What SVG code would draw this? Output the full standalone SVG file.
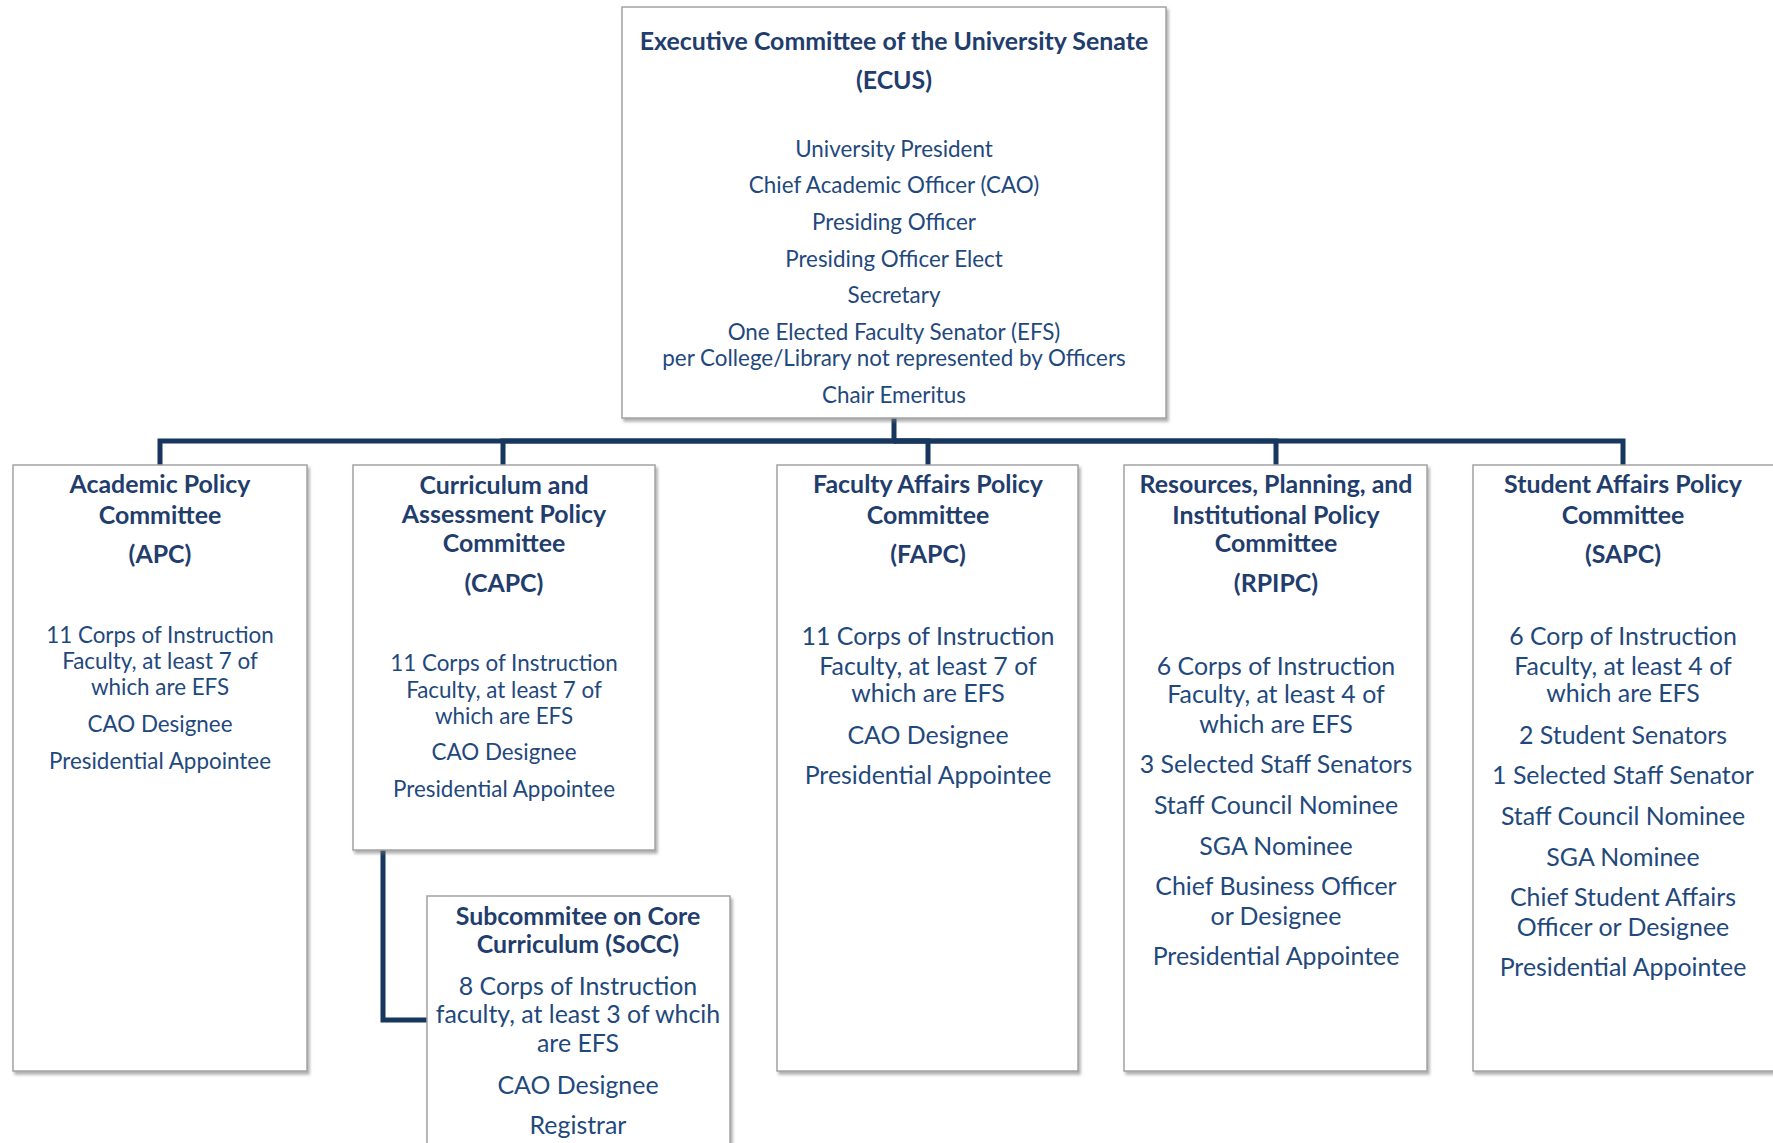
<svg xmlns="http://www.w3.org/2000/svg" width="1773" height="1143" viewBox="0 0 1773 1143">
<defs>
<filter id="sh" x="-5%" y="-5%" width="115%" height="115%">
<feDropShadow dx="2" dy="3" stdDeviation="1.8" flood-color="#6e6e6e" flood-opacity="0.55"/>
</filter>
<style>
.box{fill:#ffffff;stroke:#a3a3a3;stroke-width:1.5;filter:url(#sh)}
.conn{fill:none;stroke:#17375e;stroke-width:5}
text{font-family:Lato,"Noto Sans",sans-serif;text-anchor:middle}
.t{font-weight:bold;fill:#1f3d6d;font-size:24.9px}
.r{fill:#1f497d;font-size:22.4px}
.r2{fill:#1f497d;font-size:24.9px}
</style>
</defs>
<rect width="1773" height="1143" fill="#ffffff"/>
<g id="connectors">
<path class="conn" d="M894,418 V441 H160 V465"/>
<path class="conn" d="M894,441 H503 V465"/>
<path class="conn" d="M894,441 H928 V465"/>
<path class="conn" d="M894,441 H1276 V465"/>
<path class="conn" d="M894,441 H1623 V465"/>
<path class="conn" d="M383,850 V1020 H427"/>
</g>
<g id="ecus">
<rect class="box" x="622" y="7" width="544" height="411"/>
<text class="t" x="894" y="50">Executive Committee of the University Senate</text>
<text class="t" x="894" y="89">(ECUS)</text>
<text class="r" x="894" y="157">University President</text>
<text class="r" x="894" y="193">Chief Academic Officer (CAO)</text>
<text class="r" x="894" y="230">Presiding Officer</text>
<text class="r" x="894" y="267">Presiding Officer Elect</text>
<text class="r" x="894" y="303">Secretary</text>
<text class="r" x="894" y="340">One Elected Faculty Senator (EFS)</text>
<text class="r" x="894" y="366">per College/Library not represented by Officers</text>
<text class="r" x="894" y="403">Chair Emeritus</text>
</g>
<g id="apc">
<rect class="box" x="13" y="465" width="294" height="606"/>
<text class="t" x="160" y="493">Academic Policy</text>
<text class="t" x="160" y="524">Committee</text>
<text class="t" x="160" y="563">(APC)</text>
<text class="r" x="160" y="643">11 Corps of Instruction</text>
<text class="r" x="160" y="669">Faculty, at least 7 of</text>
<text class="r" x="160" y="695">which are EFS</text>
<text class="r" x="160" y="732">CAO Designee</text>
<text class="r" x="160" y="769">Presidential Appointee</text>
</g>
<g id="capc">
<rect class="box" x="353" y="465" width="302" height="385"/>
<text class="t" x="504" y="494">Curriculum and</text>
<text class="t" x="504" y="523">Assessment Policy</text>
<text class="t" x="504" y="552">Committee</text>
<text class="t" x="504" y="592">(CAPC)</text>
<text class="r" x="504" y="671">11 Corps of Instruction</text>
<text class="r" x="504" y="698">Faculty, at least 7 of</text>
<text class="r" x="504" y="724">which are EFS</text>
<text class="r" x="504" y="760">CAO Designee</text>
<text class="r" x="504" y="797">Presidential Appointee</text>
</g>
<g id="socc">
<rect class="box" x="427" y="896" width="303" height="260"/>
<text class="t" x="578" y="925">Subcommitee on Core</text>
<text class="t" x="578" y="953">Curriculum (SoCC)</text>
<text class="r2" x="578" y="995">8 Corps of Instruction</text>
<text class="r2" x="578" y="1023">faculty, at least 3 of whcih</text>
<text class="r2" x="578" y="1052">are EFS</text>
<text class="r2" x="578" y="1094">CAO Designee</text>
<text class="r2" x="578" y="1134">Registrar</text>
</g>
<g id="fapc">
<rect class="box" x="777" y="465" width="301" height="606"/>
<text class="t" x="928" y="493">Faculty Affairs Policy</text>
<text class="t" x="928" y="524">Committee</text>
<text class="t" x="928" y="563">(FAPC)</text>
<text class="r2" x="928" y="645">11 Corps of Instruction</text>
<text class="r2" x="928" y="675">Faculty, at least 7 of</text>
<text class="r2" x="928" y="702">which are EFS</text>
<text class="r2" x="928" y="744">CAO Designee</text>
<text class="r2" x="928" y="784">Presidential Appointee</text>
</g>
<g id="rpipc">
<rect class="box" x="1124" y="465" width="303" height="606"/>
<text class="t" x="1276" y="493">Resources, Planning, and</text>
<text class="t" x="1276" y="524">Institutional Policy</text>
<text class="t" x="1276" y="552">Committee</text>
<text class="t" x="1276" y="592">(RPIPC)</text>
<text class="r2" x="1276" y="675">6 Corps of Instruction</text>
<text class="r2" x="1276" y="703">Faculty, at least 4 of</text>
<text class="r2" x="1276" y="733">which are EFS</text>
<text class="r2" x="1276" y="773">3 Selected Staff Senators</text>
<text class="r2" x="1276" y="814">Staff Council Nominee</text>
<text class="r2" x="1276" y="855">SGA Nominee</text>
<text class="r2" x="1276" y="895">Chief Business Officer</text>
<text class="r2" x="1276" y="925">or Designee</text>
<text class="r2" x="1276" y="965">Presidential Appointee</text>
</g>
<g id="sapc">
<rect class="box" x="1473" y="465" width="303" height="606"/>
<text class="t" x="1623" y="493">Student Affairs Policy</text>
<text class="t" x="1623" y="524">Committee</text>
<text class="t" x="1623" y="563">(SAPC)</text>
<text class="r2" x="1623" y="645">6 Corp of Instruction</text>
<text class="r2" x="1623" y="675">Faculty, at least 4 of</text>
<text class="r2" x="1623" y="702">which are EFS</text>
<text class="r2" x="1623" y="744">2 Student Senators</text>
<text class="r2" x="1623" y="784">1 Selected Staff Senator</text>
<text class="r2" x="1623" y="825">Staff Council Nominee</text>
<text class="r2" x="1623" y="866">SGA Nominee</text>
<text class="r2" x="1623" y="906">Chief Student Affairs</text>
<text class="r2" x="1623" y="936">Officer or Designee</text>
<text class="r2" x="1623" y="976">Presidential Appointee</text>
</g>
</svg>
